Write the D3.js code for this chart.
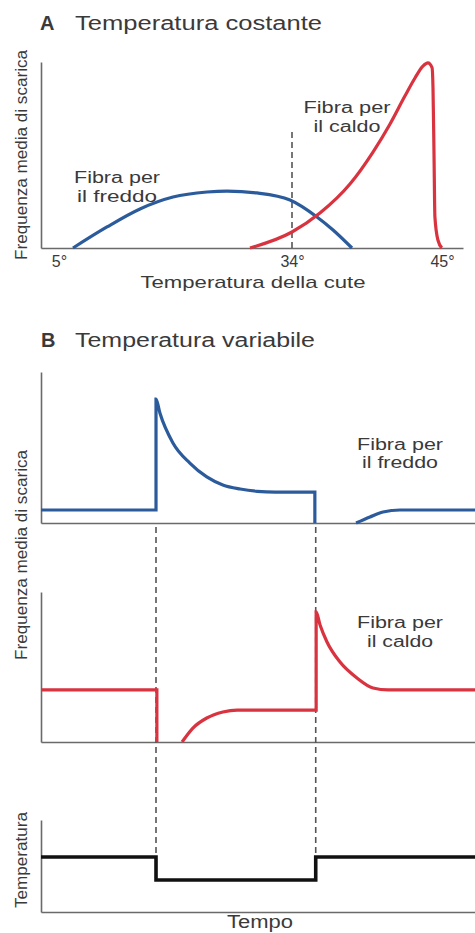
<!DOCTYPE html>
<html><head><meta charset="utf-8">
<script src="https://cdn.jsdelivr.net/npm/d3@7"></script>
<style>
html,body{margin:0;padding:0;background:#fff;}
svg{display:block;}
text{font-family:"Liberation Sans",Arial,sans-serif;fill:#3a3a3a;}
</style></head>
<body>
<script>
// ---------- DATA ----------
// Panel A: mean firing frequency vs skin temperature
const tempTicks = [5, 34, 45];
const tempTickLabels = ["5°", "34°", "45°"];
const coldTemp = [6.74, 10.97, 15.08, 19.19, 23.42, 25.91, 29.64, 33.75, 35.83, 37.01, 38.40];
const coldRate = [0, 11.3, 21.0, 27.4, 30.1, 30.6, 29.6, 25.8, 16.7, 9.7, 0];
const warmTemp = [28.77, 34, 36.05, 38.25, 39.94, 41.19, 42.28, 43.02, 43.60, 43.97, 44.27, 44.34, 44.41, 44.48, 44.70, 44.99];
const warmRate = [0, 8.6, 18.8, 34.4, 51.6, 66.7, 81.7, 91.4, 97.8, 99.5, 97.0, 86.0, 52.7, 16.7, 4.3, 0];
const referenceTemp = 34;

// Panel B: responses over time (null = gap)
const coldTimeB = [0, 26.5, 26.5, 27.4, 30.4, 34.3, 38.2, 41.9, 45.9, 49.8, 54, 63.1, 63.1, null, 72.6, 75.8, 78.8, 82.7, 100];
const coldRateB = [8.6, 8.6, 82.1, 72.8, 53.0, 39.7, 30.5, 25.2, 22.5, 21.0, 20.5, 20.5, 0, null, 0, 4.0, 7.3, 8.6, 8.6];
const warmTimeB = [0, 26.7, 26.7, null, 32.5, 35.0, 38.2, 41.9, 45.2, 50, 63.4, 63.4, 64.3, 65.9, 68.9, 72.8, 76.5, 80, 100];
const warmRateB = [34.7, 34.7, 0, null, 0, 9.3, 16, 20, 21.3, 21.3, 21.3, 86.7, 78, 66.7, 53.3, 42.7, 36, 34.7, 34.7];
const stimTime = [0, 26.5, 26.5, 63.3, 63.3, 100];
const stimLevel = [59.8, 59.8, 34.8, 34.8, 59.8, 59.8];
const stepTimes = [26.5, 63.3];

// ---------- DRAWING ----------
const W = 475, H = 933;
const blue = "#2c5b9c", red = "#d8333f", axisCol = "#6a6a6a";
const svg = d3.select("body").append("svg").attr("width", W).attr("height", H);
svg.append("rect").attr("width", W).attr("height", H).attr("fill", "#fff");

const zip = (a, b) => a.map((v, i) => ({x: v, y: b[i]}));

function styleAxis(g) {
  g.select(".domain").attr("stroke", axisCol).attr("stroke-width", 1.6);
  g.selectAll(".tick line").remove();
}

// ----- Panel A -----
const xA = d3.scaleLinear().domain([2.76, 5, 34, 45, 46.54]).range([41, 59, 292, 442, 463]);
const yA = d3.scaleLinear().domain([0, 100]).range([248, 62]);
const gA = svg.append("g");

gA.append("text").attr("x", 40).attr("y", 30).style("font-size", "20px").style("font-weight", "bold").text("A");
gA.append("text").attr("x", 75).attr("y", 30).style("font-size", "20px")
  .attr("textLength", 247).attr("lengthAdjust", "spacingAndGlyphs").text("Temperatura costante");

gA.append("g").attr("transform", "translate(41,0)")
  .call(d3.axisLeft(yA).ticks(0).tickSizeOuter(0)).call(styleAxis);
const axA = gA.append("g").attr("transform", "translate(0,248)")
  .call(d3.axisBottom(xA).tickValues(tempTicks).tickFormat((d, i) => tempTickLabels[i]).tickSizeOuter(0).tickSize(0).tickPadding(8))
  .call(styleAxis);
axA.selectAll(".tick text").style("font-size", "16px").style("fill", "#3a3a3a").attr("font-family", null);

gA.append("line")
  .attr("x1", xA(referenceTemp)).attr("x2", xA(referenceTemp))
  .attr("y1", yA(0)).attr("y2", yA(62.4))
  .attr("stroke", "#555").attr("stroke-width", 1.6).attr("stroke-dasharray", "6,4");

const lineA = d3.line().x(d => xA(d.x)).y(d => yA(d.y)).curve(d3.curveMonotoneX);
gA.append("path").datum(zip(coldTemp, coldRate)).attr("d", lineA)
  .attr("fill", "none").attr("stroke", blue).attr("stroke-width", 3.2);
gA.append("path").datum(zip(warmTemp, warmRate)).attr("d", lineA)
  .attr("fill", "none").attr("stroke", red).attr("stroke-width", 3.2);

gA.append("text").attr("x", 253).attr("y", 288).attr("text-anchor", "middle").style("font-size", "17px")
  .attr("textLength", 225).attr("lengthAdjust", "spacingAndGlyphs").text("Temperatura della cute");
gA.append("text").attr("transform", "translate(27,155) rotate(-90)").attr("text-anchor", "middle")
  .style("font-size", "17px").attr("textLength", 210).attr("lengthAdjust", "spacingAndGlyphs")
  .text("Frequenza media di scarica");

function twoLine(g, cx, y1, y2, a, b, wa, wb) {
  g.append("text").attr("x", cx).attr("y", y1).attr("text-anchor", "middle").style("font-size", "16px")
    .attr("textLength", wa).attr("lengthAdjust", "spacingAndGlyphs").text(a);
  g.append("text").attr("x", cx).attr("y", y2).attr("text-anchor", "middle").style("font-size", "16px")
    .attr("textLength", wb).attr("lengthAdjust", "spacingAndGlyphs").text(b);
}
twoLine(gA, 117, 183, 202, "Fibra per", "il freddo", 86, 80);
twoLine(gA, 347, 113, 132, "Fibra per", "il caldo", 87, 67);

// ----- Panel B -----
const gB = svg.append("g");
gB.append("text").attr("x", 41).attr("y", 347).style("font-size", "20px").style("font-weight", "bold").text("B");
gB.append("text").attr("x", 75).attr("y", 347).style("font-size", "20px")
  .attr("textLength", 240).attr("lengthAdjust", "spacingAndGlyphs").text("Temperatura variabile");

const xB = d3.scaleLinear().domain([0, 100]).range([41, 475]);
const yCold = d3.scaleLinear().domain([0, 100]).range([523, 372]);
const yWarm = d3.scaleLinear().domain([0, 100]).range([742, 592]);
const yStim = d3.scaleLinear().domain([0, 100]).range([912, 820]);

[[yCold, 523], [yWarm, 742], [yStim, 912]].forEach(([ys, base]) => {
  gB.append("g").attr("transform", "translate(41,0)")
    .call(d3.axisLeft(ys).ticks(0).tickSizeOuter(0)).call(styleAxis);
  gB.append("g").attr("transform", `translate(0,${base})`)
    .call(d3.axisBottom(xB).ticks(0).tickSizeOuter(0)).call(styleAxis);
});

// dashed guides at stimulus steps
stepTimes.forEach(t => {
  gB.append("line").attr("x1", xB(t)).attr("x2", xB(t))
    .attr("y1", yCold(0) + 4).attr("y2", yStim(61))
    .attr("stroke", "#555").attr("stroke-width", 1.6).attr("stroke-dasharray", "6,4");
});

function trace(ys, xs, vs, col, w, curve) {
  const ln = d3.line().defined(d => d.x != null && d.y != null)
    .x(d => xB(d.x)).y(d => ys(d.y)).curve(curve);
  gB.append("path").datum(zip(xs, vs)).attr("d", ln)
    .attr("fill", "none").attr("stroke", col).attr("stroke-width", w)
    .attr("stroke-linejoin", "miter");
}
trace(yCold, coldTimeB, coldRateB, blue, 3.2, d3.curveMonotoneX);
trace(yWarm, warmTimeB, warmRateB, red, 3.2, d3.curveMonotoneX);
trace(yStim, stimTime, stimLevel, "#111", 3.6, d3.curveLinear);

twoLine(gB, 400, 450, 468, "Fibra per", "il freddo", 86, 76);
twoLine(gB, 400, 628, 647, "Fibra per", "il caldo", 86, 66);

gB.append("text").attr("transform", "translate(27,555) rotate(-90)").attr("text-anchor", "middle")
  .style("font-size", "17px").attr("textLength", 210).attr("lengthAdjust", "spacingAndGlyphs")
  .text("Frequenza media di scarica");
gB.append("text").attr("transform", "translate(27,860) rotate(-90)").attr("text-anchor", "middle")
  .style("font-size", "17px").attr("textLength", 96).attr("lengthAdjust", "spacingAndGlyphs")
  .text("Temperatura");
gB.append("text").attr("x", 260).attr("y", 928).attr("text-anchor", "middle").style("font-size", "18px")
  .attr("textLength", 66).attr("lengthAdjust", "spacingAndGlyphs").text("Tempo");
</script>
</body></html>
